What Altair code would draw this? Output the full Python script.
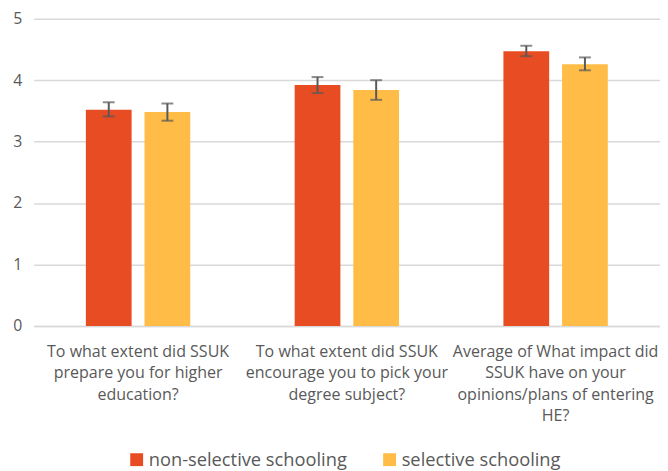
import altair as alt
import pandas as pd

categories = [
    "To what extent did SSUK|prepare you for higher|education?",
    "To what extent did SSUK|encourage you to pick your|degree subject?",
    "Average of What impact did|SSUK have on your|opinions/plans of entering|HE?",
]
groups = ["non-selective schooling", "selective schooling"]
non_selective = [3.52, 3.92, 4.47]
non_selective_lo = [3.41, 3.79, 4.39]
non_selective_hi = [3.64, 4.05, 4.56]
selective = [3.48, 3.84, 4.26]
selective_lo = [3.34, 3.68, 4.16]
selective_hi = [3.62, 4.00, 4.37]
colors = ["#E84C22", "#FFBD47"]

rows = []
for i, c in enumerate(categories):
    rows.append(dict(cat=c, group=groups[0], value=non_selective[i], lo=non_selective_lo[i], hi=non_selective_hi[i]))
    rows.append(dict(cat=c, group=groups[1], value=selective[i], lo=selective_lo[i], hi=selective_hi[i]))
df = pd.DataFrame(rows)

FONT = "Open Sans"
GRAY = "#595959"

x = alt.X(
    "cat:N",
    sort=categories,
    title=None,
    scale=alt.Scale(paddingInner=0.5, paddingOuter=0.25),
    axis=alt.Axis(
        labelExpr="split(datum.label, '|')",
        labelAngle=0,
        labelFont=FONT,
        labelFontSize=16.2,
        labelColor=GRAY,
        labelLineHeight=21.5,
        labelPadding=18,
        labelLimit=300,
        domainColor="#d9d9d9",
        domainWidth=1.5,
        ticks=False,
    ),
)
xo = alt.XOffset("group:N", sort=groups, scale=alt.Scale(paddingInner=0.22, paddingOuter=0))
y_scale = alt.Scale(domain=[0, 5])

bars = alt.Chart(df).mark_bar().encode(
    x=x,
    xOffset=xo,
    y=alt.Y(
        "value:Q",
        scale=y_scale,
        title=None,
        axis=alt.Axis(
            values=[0, 1, 2, 3, 4, 5],
            format="d",
            labelFont=FONT,
            labelFontSize=16,
            labelColor=GRAY,
            labelPadding=12,
            domain=False,
            ticks=False,
            gridColor="#d9d9d9",
            gridWidth=1.5,
        ),
    ),
    color=alt.Color(
        "group:N",
        sort=groups,
        scale=alt.Scale(domain=groups, range=colors),
        legend=alt.Legend(
            title=None,
            orient="none",
            direction="horizontal",
            legendX=95,
            legendY=437,
            symbolType="square",
            symbolSize=170,
            symbolStrokeWidth=0,
            labelFont=FONT,
            labelFontSize=18.5,
            labelColor=GRAY,
            labelLimit=400,
            columnPadding=33,
            labelOffset=3,
        ),
    ),
)

rule = alt.Chart(df).mark_rule(color=GRAY, strokeWidth=2).encode(
    x=x, xOffset=xo, y=alt.Y("lo:Q", scale=y_scale), y2="hi:Q"
)
cap_lo = alt.Chart(df).mark_tick(color=GRAY, thickness=2, size=12, orient="horizontal").encode(
    x=x, xOffset=xo, y=alt.Y("lo:Q", scale=y_scale)
)
cap_hi = alt.Chart(df).mark_tick(color=GRAY, thickness=2, size=12, orient="horizontal").encode(
    x=x, xOffset=xo, y=alt.Y("hi:Q", scale=y_scale)
)

chart = (
    alt.layer(bars, rule, cap_lo, cap_hi)
    .properties(
        width=634,
        height=311,
        autosize=alt.AutoSizeParams(type="none"),
        padding={"left": 26, "top": 8, "right": 0, "bottom": 144},
    )
    .configure_view(stroke=None)
)

chart.save("out.html", embed_options={"renderer": "svg", "actions": False})
